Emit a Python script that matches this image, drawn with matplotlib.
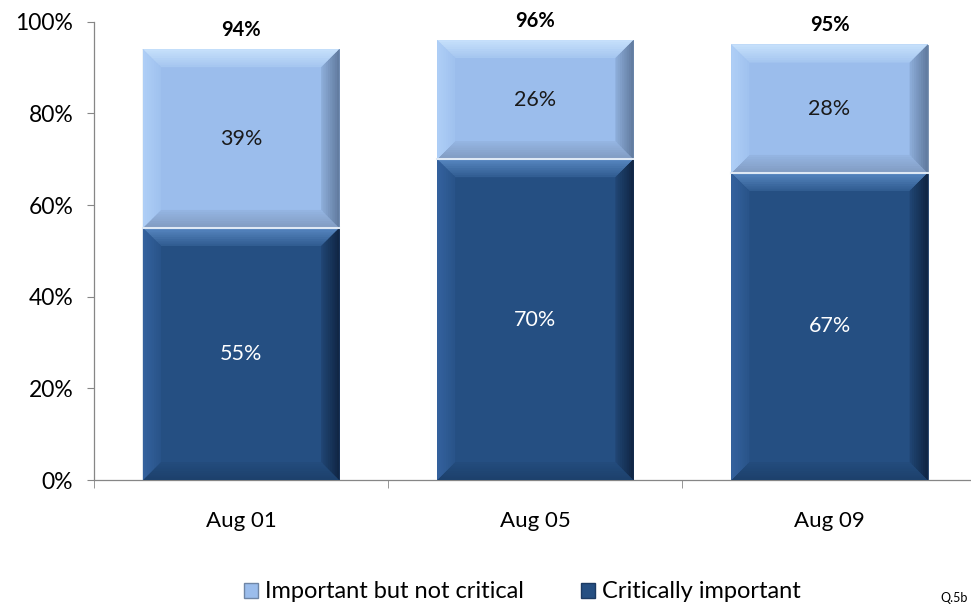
import numpy as np
import matplotlib
matplotlib.use('Agg')
import matplotlib.pyplot as plt
from matplotlib.patches import Polygon, Patch
from matplotlib.colors import to_rgb

plt.rcParams['font.family'] = ['Lato', 'DejaVu Sans']

# data
cats = ['Aug 01', 'Aug 05', 'Aug 09']
critical = [55, 70, 67]
important = [39, 26, 28]
totals = [94, 96, 95]
series_names = ['Important but not critical', 'Critically important']

light = '#9bbdec'
dark = '#254f82'

fig = plt.figure(figsize=(9.71, 6.09), dpi=100)
ax = fig.add_axes([0.0968, 0.2118, 0.909, 0.7526])

x = np.arange(len(cats))
w = 0.667
b1 = ax.bar(x, critical, w, color=dark, edgecolor='#1b3a63', linewidth=0.6, zorder=2)
b2 = ax.bar(x, important, w, bottom=critical, color=light, edgecolor='#6f86a6',
            linewidth=0.6, zorder=2)

ax.set_xlim(-0.5, 2.5)
ax.set_ylim(0, 100)

# 斜面效果 (bevel), pixels -> data units
px_x = 1 / 294.3
px_y = 1 / 4.583
bev = 18
nstep = 8


def mix(c1, c2, t):
    a, b = np.array(to_rgb(c1)), np.array(to_rgb(c2))
    return tuple(a + (b - a) * t)


def bevel(rect, fill, top, left, right, bottom):
    x0, y0 = rect.get_x(), rect.get_y()
    x1, y1 = x0 + rect.get_width(), y0 + rect.get_height()
    for k in range(nstep):
        f = 1 - k / nstep           # depth fraction, big first
        t = 1 - f                   # colour closer to edge as depth shrinks
        dx = bev * px_x * f
        dy = min(bev * px_y * f, rect.get_height() / 2)
        pieces = [
            ([(x0, y1), (x1, y1), (x1 - dx, y1 - dy), (x0 + dx, y1 - dy)], top),
            ([(x0, y0), (x1, y0), (x1 - dx, y0 + dy), (x0 + dx, y0 + dy)], bottom),
            ([(x0, y0), (x0, y1), (x0 + dx, y1 - dy), (x0 + dx, y0 + dy)], left),
            ([(x1, y0), (x1, y1), (x1 - dx, y1 - dy), (x1 - dx, y0 + dy)], right),
        ]
        for pts, c in pieces:
            ax.add_patch(Polygon(pts, closed=True, facecolor=mix(fill, c, 0.25 + 0.75 * t),
                                 edgecolor='none', zorder=3))


for r in b1:
    bevel(r, dark, '#5a8ac4', '#3563a0', '#0f2340', '#1c3f6a')
for r in b2:
    bevel(r, light, '#c9e3fc', '#b0d0f7', '#5d7699', '#7f99bf')

# 分隔线
for r in b2:
    ax.plot([r.get_x(), r.get_x() + r.get_width()], [r.get_y(), r.get_y()],
            color='#dfe9f5', lw=1.5, zorder=4)

# 标签
for i in range(len(cats)):
    ax.text(x[i], critical[i] / 2, f'{critical[i]}%', ha='center', va='center',
            color='white', fontsize=15.5, zorder=5)
    ax.text(x[i], critical[i] + important[i] / 2, f'{important[i]}%', ha='center',
            va='center', color='#1a1a1a', fontsize=15.5, zorder=5)
    ax.annotate(f'{totals[i]}%', (x[i], totals[i]), xytext=(0, 14),
                textcoords='offset points', ha='center', va='center',
                fontsize=14.5, fontweight='bold', color='black')

for s in ['top', 'right']:
    ax.spines[s].set_visible(False)
for s in ['left', 'bottom']:
    ax.spines[s].set_color('#868686')
    ax.spines[s].set_linewidth(0.9)

ax.set_yticks(range(0, 101, 20))
ax.set_yticklabels([f'{v}%' for v in range(0, 101, 20)], fontsize=16.5)
ax.tick_params(axis='y', length=5, color='#868686', pad=10)
ax.set_xticks(x)
ax.set_xticklabels(cats, fontsize=16)
ax.set_xticks([-0.5, 0.5, 1.5, 2.5], minor=True)
ax.tick_params(axis='x', which='major', length=0, pad=22)
ax.tick_params(axis='x', which='minor', length=6, color='#868686')

handles = [Patch(facecolor=light, edgecolor='#6f86a6', label=series_names[0]),
           Patch(facecolor=dark, edgecolor='#1b3a63', label=series_names[1])]
fig.legend(handles=handles, loc='center', bbox_to_anchor=(0.538, 0.028), ncol=2,
           frameon=False, fontsize=17, handlelength=0.6, handleheight=0.6,
           handletextpad=0.3, columnspacing=2.4)

fig.text(0.968, 0.018, 'Q.5b', fontsize=9, ha='left', va='center')

plt.savefig('out.png', dpi=100)
